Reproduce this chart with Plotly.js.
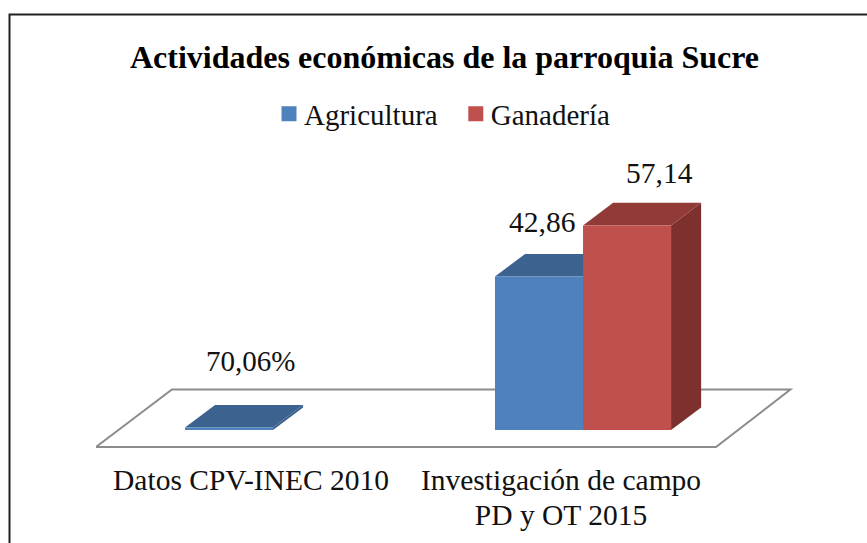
<!DOCTYPE html>
<html><head><meta charset="utf-8">
<script src="https://cdn.plot.ly/plotly-3.0.1.min.js"></script>
<style>html,body{margin:0;padding:0;background:#fff}#c{width:867px;height:543px}</style>
</head><body><div id="c"></div>
<script>
const categories = ["Datos CPV-INEC 2010", "Investigación de campo<br>PD y OT 2015"];
const seriesNames = ["Agricultura", "Ganadería"];
const agricultura = [0.7006, 42.86];
const ganaderia = [null, 57.14];
const agriculturaLabels = ["70,06%", "42,86"];
const ganaderiaLabels = ["", "57,14"];
const chartTitle = "Actividades económicas de la parroquia Sucre";

const FONT = "'Liberation Serif','Times New Roman',serif";
const xs = [0, 1];
const barW = 0.284, shift = 0.071, dX = 0.097, dY = 6.3;
const blue = {front:"#4F81BD", top:"#3C628F", side:"#3A5F8B"};
const red = {front:"#C0504D", top:"#923A38", side:"#7D302E"};

function poly(pts, fill){
  return {type:"path", xref:"x", yref:"y", layer:"below",
    path:"M"+pts.map(p=>p[0]+","+p[1]).join("L")+"Z",
    fillcolor:fill, line:{width:0}};
}
function faces(vals, left, c){
  const out = [];
  vals.forEach((v,i)=>{
    if(v===null) return;
    const a = xs[i]+left, b = a+barW;
    out.push(poly([[b,0],[b,v],[b+dX,v+dY],[b+dX,dY]], c.side));
    out.push(poly([[a,v],[b,v],[b+dX,v+dY],[a+dX,v+dY]], c.top));
  });
  return out;
}
const M = {l:96,r:60,t:140,b:84};
const PW = 867-M.l-M.r, PH = 543-M.t-M.b;
const px = x=>(x-M.l)/PW, py = y=>(543-M.b-y)/PH;
const floor = {type:"path", xref:"x", yref:"y", layer:"below",
  path:"M-0.5,-4.75L1.5,-4.75L1.74,11.3L-0.255,11.3Z",
  fillcolor:"#fff", line:{color:"#8C8C8C", width:2}};
const frame = {type:"path", xref:"paper", yref:"paper", layer:"below",
  path:`M${px(9.5)},${py(545)}L${px(9.5)},${py(14.5)}L${px(869)},${py(14.5)}`,
  line:{color:"#222", width:2}};

const bar = (name,vals,off,col)=>({type:"bar", name, x:xs, y:vals, width:barW, offset:off,
  marker:{color:col, line:{width:0}}, hoverinfo:"skip"});

const data = [
  bar(seriesNames[0], agricultura, shift-barW, blue.front),
  bar(seriesNames[1], ganaderia, shift, red.front),
];
const lf = {family:FONT,size:29.5,color:"#111"};
const layout = {
  width:867, height:543, margin:M,
  paper_bgcolor:"#fff", plot_bgcolor:"rgba(0,0,0,0)", barmode:"overlay",
  font:{family:FONT,color:"#111"},
  title:{text:"<b>"+chartTitle+"</b>", x:444.5/867, xanchor:"center", y:1-57/543, yanchor:"middle",
    font:{family:FONT,size:32,color:"#000"}},
  showlegend:true,
  legend:{orientation:"h", x:px(269), xanchor:"left", y:py(114), yanchor:"middle",
    font:{family:FONT,size:29,color:"#111"}, traceorder:"normal", itemwidth:30, bgcolor:"rgba(0,0,0,0)"},
  xaxis:{range:[-0.5,1.7935], tickmode:"array", tickvals:xs, ticktext:categories, showgrid:false, zeroline:false,
    showline:false, ticks:"", tickfont:lf, fixedrange:true},
  yaxis:{range:[-8.1,81], showgrid:false, zeroline:false, showline:false, showticklabels:false, ticks:"", fixedrange:true},
  shapes:[frame, floor, ...faces(agricultura, shift-barW, blue), ...faces(ganaderia, shift, red)],
  annotations:[
    ...agriculturaLabels.map((t,i)=>({x:xs[i], y:agricultura[i], text:t, xref:"x", yref:"y", showarrow:false,
      xshift:i==0?-1:-19, yshift:i==0?66:55, font:i==0?{...lf,size:29}:lf})),
    {x:xs[1], y:ganaderia[1], text:ganaderiaLabels[1], xref:"x", yref:"y", showarrow:false, xshift:98, yshift:52, font:lf}
  ]
};
Plotly.newPlot("c", data, layout, {displayModeBar:false, staticPlot:true}).then(gd=>{
  // Legend swatches a little larger, closer to their text; tighter tick-label leading
  gd.querySelectorAll(".legend .legendpoints path").forEach(p=>p.setAttribute("d","M7.5,7.5H-7.5V-7.5H7.5Z"));
  gd.querySelectorAll(".legend text.legendtext").forEach(t=>{
    t.setAttribute("x", parseFloat(t.getAttribute("x"))-5);
  });
  const groups = gd.querySelectorAll(".legend g.traces");
  if(groups[1]){
    const m = /translate\(([-\d.]+)[ ,]+([-\d.]+)\)/.exec(groups[1].getAttribute("transform")||"");
    if(m) groups[1].setAttribute("transform",`translate(${parseFloat(m[1])+8},${m[2]})`);
  }
  gd.querySelectorAll(".xtick text tspan.line").forEach(t=>{
    if(parseFloat(t.getAttribute("dy"))>0) t.setAttribute("dy","1.19em");
  });
});
</script></body></html>
